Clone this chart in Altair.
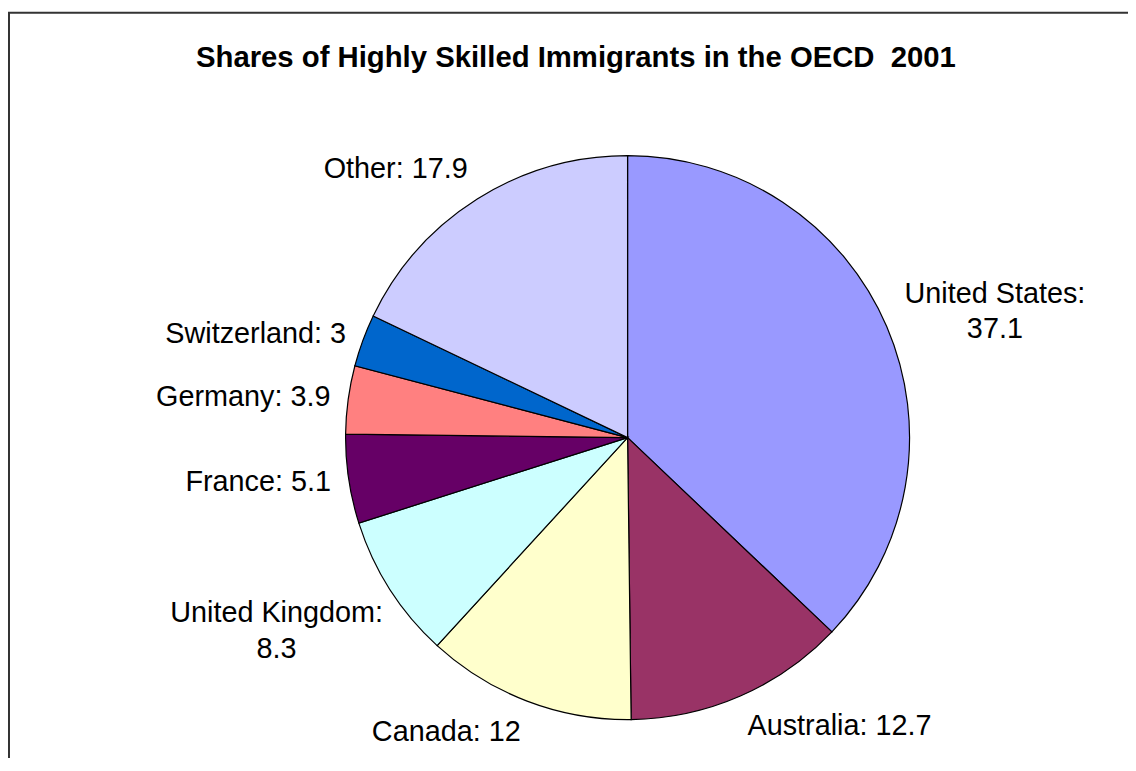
import altair as alt
import pandas as pd

countries = ["United States", "Australia", "Canada", "United Kingdom",
             "France", "Germany", "Switzerland", "Other"]
shares = [37.1, 12.7, 12, 8.3, 5.1, 3.9, 3, 17.9]
colors = ["#9999FF", "#993366", "#FFFFCC", "#CCFFFF",
          "#660066", "#FF8080", "#0066CC", "#CCCCFF"]
wrapped = ["United States", "United Kingdom"]
title_text = "Shares of Highly Skilled Immigrants in the OECD \u00a02001"


def fmt(v):
    return f"{v:g}"


labels = [f"{c}:\n{fmt(v)}" if c in wrapped else f"{c}: {fmt(v)}"
          for c, v in zip(countries, shares)]

df = pd.DataFrame({"country": countries, "share": shares,
                   "label": labels, "idx": list(range(len(countries)))})

FONT = "Liberation Sans"
CX, CY = 624, 430
R = 284
LH = 36
HALF_CHAR = 6.6

base = alt.Chart(df)

pie = base.mark_arc(outerRadius=R, stroke="black", strokeWidth=1.2).encode(
    theta=alt.Theta("share:Q", stack=True),
    color=alt.Color("country:N", scale=alt.Scale(domain=countries, range=colors), legend=None),
    order=alt.Order("idx:Q"),
    x=alt.value(CX), y=alt.value(CY),
)

lab = (base
       .transform_window(cum="sum(share)", sort=[alt.SortField("idx")])
       .transform_joinaggregate(total="sum(share)")
       .transform_calculate(mid="datum.cum - datum.share / 2")
       .transform_calculate(ang="2 * PI * datum.mid / datum.total",
                            nl="length(split(datum.label, '\\n'))",
                            len0="length(split(datum.label, '\\n')[0])")
       .transform_calculate(
           al="datum.ang < PI ? 'left' : 'right'",
           bl="cos(datum.ang) > 0.5 ? 'bottom' : (cos(datum.ang) < -0.5 ? 'top' : 'middle')"))

texts = lab.mark_text(
    align=alt.expr("datum.nl > 1 ? 'center' : datum.al"),
    baseline=alt.expr("datum.bl"),
    dx=alt.expr(f"datum.nl > 1 ? (datum.al == 'left' ? 1 : -1) * {HALF_CHAR} * datum.len0 : 0"),
    dy=alt.expr(f"datum.bl == 'middle' ? -(datum.nl - 1) * {LH * 0.72} : "
                f"(datum.bl == 'bottom' ? -(datum.nl - 1) * {LH} : 0)"),
    radius=302, font=FONT, fontSize=29, lineBreak="\n", lineHeight=LH, color="black",
).encode(theta=alt.Theta("mid:Q", stack=None), text="label:N",
         x=alt.value(CX), y=alt.value(CY))

frame = alt.Chart(alt.Data(values=[{"k": 1}])).mark_rect(
    fill="transparent", stroke="#333333", strokeWidth=2).encode(
    x=alt.value(1), y=alt.value(2), x2=alt.value(1400), y2=alt.value(1100))

chart = alt.layer(frame, pie, texts).properties(
    width=1128, height=750, padding=0, autosize="none",
    title=alt.Title(title_text, font=FONT, fontSize=29.5, fontWeight="bold",
                    anchor="middle", frame="group", baseline="alphabetic",
                    offset=0, dy=86, dx=8, color="black"),
).configure_view(stroke="transparent")

chart.save("out.html", embed_options={"renderer": "svg", "actions": False})
